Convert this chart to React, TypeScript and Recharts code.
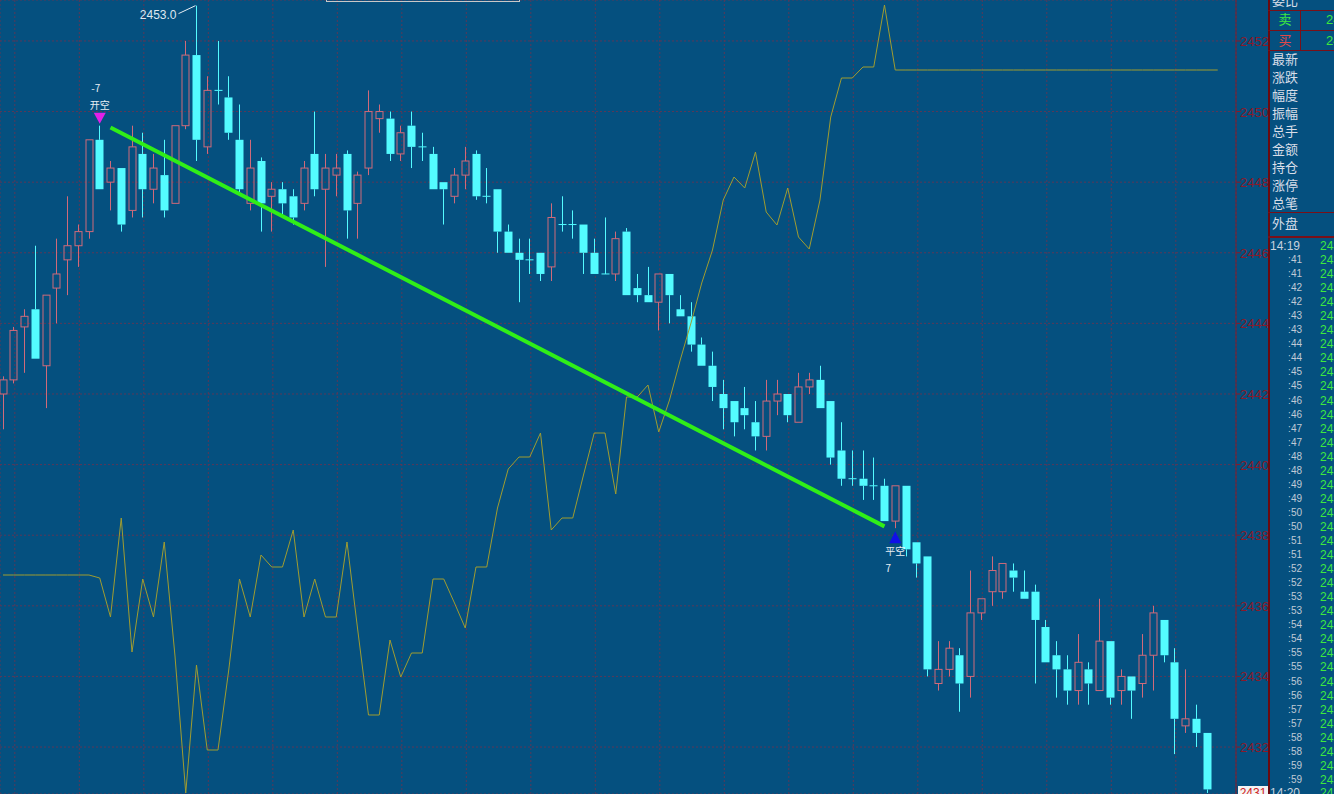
import React from 'react';
import { ComposedChart, Bar, Line, XAxis, YAxis, CartesianGrid, ReferenceDot } from 'recharts';

// one-minute bars, 14:19 session slice
const opens = [
  2442.0, 2442.4, 2443.9, 2444.4, 2442.8, 2445.0, 2445.8, 2446.2, 2446.6, 2449.2,
  2448.0, 2448.4, 2447.2, 2448.8, 2447.8, 2448.2, 2447.4, 2449.6, 2451.6, 2449.0,
  2450.6, 2450.4, 2449.2, 2447.4, 2448.6, 2447.6, 2447.8, 2447.6, 2447.4, 2448.8,
  2447.8, 2448.2, 2448.8, 2447.4, 2448.4, 2449.8, 2449.8, 2448.8, 2449.6, 2449.0,
  2448.8, 2448.0, 2447.6, 2448.2, 2448.8, 2447.6, 2447.8, 2446.6, 2446.0, 2445.8,
  2446.0, 2445.6, 2446.8, 2446.8, 2446.8, 2446.0, 2445.4, 2445.4, 2446.6, 2445.0,
  2444.8, 2444.6, 2445.4, 2444.4, 2444.2, 2443.4, 2442.8, 2442.0, 2441.8, 2441.6,
  2441.2, 2440.8, 2441.8, 2442.0, 2441.2, 2442.2, 2442.4, 2441.8, 2440.4, 2439.6,
  2439.6, 2439.4, 2439.4, 2438.4, 2439.4, 2437.8, 2437.4, 2433.8, 2434.2, 2434.6,
  2434.0, 2435.8, 2436.4, 2436.4, 2437.0, 2436.4, 2436.4, 2435.4, 2434.6, 2434.2,
  2433.6, 2434.2, 2433.6, 2435.0, 2433.6, 2434.0, 2433.8, 2434.6, 2435.6, 2434.4,
  2432.6, 2432.8, 2432.4,
];
const highs = [
  2442.5, 2443.9, 2444.4, 2446.2, 2444.8, 2446.4, 2447.6, 2446.8, 2449.2, 2449.6,
  2448.6, 2448.4, 2449.6, 2449.4, 2448.8, 2449.2, 2449.6, 2452.0, 2453.0, 2451.0,
  2452.0, 2451.0, 2450.2, 2449.2, 2448.7, 2448.0, 2448.0, 2447.8, 2448.6, 2450.0,
  2448.8, 2448.8, 2448.9, 2448.3, 2450.6, 2450.2, 2450.0, 2449.6, 2450.0, 2449.4,
  2449.0, 2448.0, 2448.4, 2449.0, 2448.9, 2448.4, 2447.8, 2446.8, 2446.4, 2446.4,
  2446.0, 2447.4, 2447.6, 2447.2, 2446.8, 2446.4, 2447.0, 2446.6, 2446.7, 2445.4,
  2445.6, 2445.4, 2445.4, 2444.8, 2444.6, 2443.6, 2443.2, 2442.4, 2441.8, 2442.2,
  2441.8, 2442.4, 2442.4, 2442.0, 2442.6, 2442.6, 2442.8, 2441.8, 2441.2, 2440.4,
  2440.4, 2440.2, 2439.6, 2439.4, 2439.4, 2437.8, 2437.4, 2435.0, 2435.0, 2434.8,
  2437.0, 2436.2, 2437.4, 2437.2, 2437.2, 2437.0, 2436.6, 2435.6, 2435.0, 2434.6,
  2435.2, 2434.4, 2436.2, 2435.0, 2434.2, 2434.0, 2435.2, 2436.0, 2435.6, 2434.8,
  2434.2, 2433.2, 2432.4,
];
const lows = [
  2441.0, 2442.3, 2442.6, 2443.0, 2441.6, 2444.0, 2444.8, 2445.6, 2446.4, 2447.8,
  2447.2, 2446.6, 2447.0, 2447.0, 2447.4, 2447.0, 2447.4, 2449.5, 2448.6, 2448.8,
  2450.2, 2449.2, 2447.7, 2447.2, 2446.6, 2446.6, 2447.0, 2446.8, 2447.2, 2447.6,
  2445.6, 2447.6, 2446.4, 2446.4, 2448.2, 2449.4, 2448.6, 2448.6, 2448.4, 2448.6,
  2447.8, 2446.8, 2447.4, 2447.8, 2447.5, 2447.4, 2446.0, 2446.0, 2444.6, 2445.4,
  2445.2, 2445.2, 2446.6, 2446.4, 2445.4, 2445.4, 2445.4, 2445.2, 2444.8, 2444.6,
  2444.6, 2443.8, 2444.0, 2444.2, 2443.2, 2442.8, 2441.8, 2441.0, 2440.8, 2441.0,
  2440.4, 2440.4, 2441.4, 2441.2, 2441.2, 2442.0, 2441.6, 2440.0, 2439.4, 2439.4,
  2439.0, 2439.0, 2438.4, 2438.2, 2437.4, 2436.8, 2434.0, 2433.6, 2434.0, 2433.0,
  2433.4, 2435.6, 2436.0, 2436.2, 2436.4, 2436.2, 2433.8, 2434.4, 2433.4, 2433.2,
  2433.2, 2433.2, 2433.6, 2433.2, 2433.2, 2432.8, 2433.4, 2433.6, 2434.4, 2431.8,
  2432.4, 2432.0, 2430.7,
];
const closes = [
  2442.4, 2443.8, 2444.2, 2443.0, 2444.8, 2445.4, 2446.2, 2446.6, 2449.2, 2447.8,
  2448.4, 2446.8, 2449.0, 2447.8, 2448.4, 2447.2, 2449.6, 2451.6, 2449.2, 2450.6,
  2450.6, 2449.4, 2447.8, 2448.4, 2447.4, 2447.8, 2447.4, 2447.0, 2448.4, 2447.8,
  2448.4, 2448.4, 2447.2, 2448.2, 2450.0, 2450.0, 2448.8, 2449.4, 2449.0, 2449.0,
  2447.8, 2447.8, 2448.2, 2448.6, 2447.6, 2447.6, 2446.6, 2446.0, 2445.8, 2445.8,
  2445.4, 2447.0, 2446.8, 2446.8, 2446.0, 2445.4, 2445.4, 2446.4, 2444.8, 2444.8,
  2444.6, 2445.4, 2444.8, 2444.2, 2443.4, 2442.8, 2442.2, 2441.6, 2441.2, 2441.4,
  2440.8, 2441.8, 2442.0, 2441.4, 2442.2, 2442.4, 2441.6, 2440.2, 2439.6, 2439.6,
  2439.4, 2439.4, 2438.4, 2439.4, 2437.6, 2437.2, 2434.2, 2434.2, 2434.8, 2433.8,
  2435.8, 2436.2, 2437.0, 2437.2, 2436.8, 2436.2, 2435.6, 2434.4, 2434.2, 2433.6,
  2434.4, 2433.8, 2435.0, 2433.4, 2434.0, 2433.6, 2434.6, 2435.8, 2434.6, 2432.8,
  2432.8, 2432.4, 2430.8,
];
// indicator (yellow) - one slot longer than the bars
const flow = [
  0, 0, 0, 0, 0, 0, 0, 0, 0, -0.3,
  -4.2, 5.7, -7.7, -0.4, -4.2, 3.3, -8.1, -21.8, -9.0, -17.5,
  -17.5, -9.5, -0.4, -4.2, 2.0, 0.8, 0.8, 4.5, -4.2, -0.4,
  -4.2, -4.2, 3.3, -5.5, -14.0, -14.0, -6.5, -10.2, -7.8, -7.8,
  -0.4, -0.4, -2.8, -5.3, 0.8, 0.8, 6.7, 10.6, 11.8, 11.8,
  14.2, 4.5, 5.7, 5.7, 10.0, 14.2, 14.2, 8.1, 17.8, 17.8,
  19.0, 14.3, 17.5, 21.5, 25.2, 29.2, 32.5, 37.5, 39.8, 38.7,
  42.3, 36.3, 35.0, 38.7, 33.8, 32.6, 37.5, 45.8, 49.7, 49.7,
  50.8, 50.8, 57.0, 50.5, 50.5, 50.5, 50.5, 50.5, 50.5, 50.5,
  50.5, 50.5, 50.5, 50.5, 50.5, 50.5, 50.5, 50.5, 50.5, 50.5,
  50.5, 50.5, 50.5, 50.5, 50.5, 50.5, 50.5, 50.5, 50.5, 50.5,
  50.5, 50.5, 50.5, 50.5,
];

const tradeLine = [
  { i: 10, price: 2449.55 },
  { i: 82, price: 2438.25 },
];
const signals = [
  { i: 9, kind: 'open', label: '开空', qty: '-7' },
  { i: 83, kind: 'close', label: '平空', qty: '7' },
];
const priceTicks = [2432, 2434, 2436, 2438, 2440, 2442, 2444, 2446, 2448, 2450, 2452];
const gridSlots = [1.1, 7.1, 13.1, 19.1, 25.1, 31.1, 37.1, 43.1, 49.1, 55.1, 61.1, 67.1, 73.1, 79.1, 85.1, 91.1, 97.1, 103.1, 109.1];
const quoteLabels = ['最新', '涨跌', '幅度', '振幅', '总手', '金额', '持仓', '涨停', '总笔'];
const tapeMinutes = [41, 42, 43, 44, 45, 46, 47, 48, 49, 50, 51, 52, 53, 54, 55, 56, 57, 58, 59];

const BG = '#05507f';
const UP = '#d06a7a';
const DOWN = '#54fbff';
const GRID = '#5a3858';
const AXIS_RED = '#8a1a2a';

const data = flow.map((f, i) => ({
  i,
  open: opens[i],
  high: highs[i],
  low: lows[i],
  close: closes[i],
  flow: f,
  trade: tradeLine.find((t) => t.i === i)?.price ?? null,
}));

const Candle = (props: any) => {
  const { x, y, width, height, payload } = props;
  if (!payload || payload.open == null) return null;
  const { open, close, high, low } = payload;
  const top = height >= 0 ? y : y + height;
  const h = Math.abs(height);
  const k = high > low ? h / (high - low) : 0;
  const yO = top + (high - open) * k;
  const yC = top + (high - close) * k;
  const cx = Math.round(x + width / 2) + 0.5;
  const bTop = Math.min(yO, yC);
  const bBot = Math.max(yO, yC);
  const up = close > open;
  const col = up ? UP : DOWN;
  return (
    <g>
      <line x1={cx} x2={cx} y1={top} y2={bTop} stroke={col} strokeWidth={1} />
      <line x1={cx} x2={cx} y1={bBot} y2={top + h} stroke={col} strokeWidth={1} />
      {up ? (
        <rect x={cx - 3.5} y={bTop} width={7} height={bBot - bTop} fill="none" stroke={col} strokeWidth={1} />
      ) : bBot - bTop < 1.5 ? (
        <line x1={cx - 4} x2={cx + 4} y1={bTop} y2={bTop} stroke={col} strokeWidth={1} />
      ) : (
        <rect x={cx - 4} y={bTop} width={8} height={bBot - bTop} fill={col} />
      )}
    </g>
  );
};

const PriceTick = (props: any) => {
  const { x, y, payload } = props;
  return (
    <g>
      <line x1={x} x2={x + 5} y1={y} y2={y} stroke={AXIS_RED} />
      <text x={x + 33} y={y + 5} textAnchor="end" fill={AXIS_RED} fontSize={13} fontFamily="Liberation Sans, Arial">
        {payload.value}
      </text>
    </g>
  );
};

const SignalMark = (sig: any) => (props: any) => {
  const { cx, cy } = props;
  const txt = { fill: '#e8eef4', fontSize: 10, fontFamily: 'Noto Sans CJK SC', textAnchor: 'middle' as const };
  if (sig.kind === 'open') {
    return (
      <g>
        <text x={cx - 4} y={cy - 34} {...txt}>{sig.qty}</text>
        <text x={cx} y={cy - 17} {...txt}>{sig.label}</text>
        <polygon points={`${cx - 6},${cy - 13} ${cx + 6},${cy - 13} ${cx},${cy - 2}`} fill="#e020e8" />
      </g>
    );
  }
  return (
    <g>
      <polygon points={`${cx - 6},${cy + 15} ${cx + 6},${cy + 15} ${cx},${cy + 3}`} fill="#1010e8" />
      <text x={cx} y={cy + 27} {...txt}>{sig.label}</text>
      <text x={cx - 7} y={cy + 44} {...txt}>{sig.qty}</text>
    </g>
  );
};

const PeakMark = (props: any) => {
  const { cx, cy } = props;
  return (
    <g>
      <line x1={cx - 18} y1={cy + 8} x2={cx - 1} y2={cy} stroke="#e8eef4" strokeWidth={1} />
      <text x={cx - 20} y={cy + 13} textAnchor="end" fill="#dfe8f0" fontSize={12} fontFamily="Liberation Sans, Arial">
        {Math.max(...highs).toFixed(1)}
      </text>
    </g>
  );
};

const SidePanel = () => {
  const line = '#7a1018';
  const light = '#d8dee8';
  const green = '#3ee83e';
  const cjk = 'Noto Sans CJK SC';
  return (
    <svg width={66} height={794} style={{ position: 'absolute', left: 1268, top: 0 }}>
      <line x1={1} x2={1} y1={0} y2={794} stroke="#6a0a10" strokeWidth={2} />
      <text x={4} y={5} fill={light} fontSize={13} fontFamily={cjk}>委比</text>
      <line x1={0} x2={66} y1={10.5} y2={10.5} stroke={line} />
      <line x1={0} x2={66} y1={30.5} y2={30.5} stroke={line} />
      <line x1={0} x2={66} y1={50.5} y2={50.5} stroke={line} />
      <line x1={32.5} x2={32.5} y1={10} y2={50} stroke={line} />
      <text x={17} y={24} textAnchor="middle" fill={green} fontSize={13} fontFamily={cjk}>卖</text>
      <text x={17} y={45} textAnchor="middle" fill="#e04848" fontSize={13} fontFamily={cjk}>买</text>
      <text x={58} y={24} fill={green} fontSize={13} fontFamily="Liberation Sans, Arial">2452.0</text>
      <text x={58} y={45} fill={green} fontSize={13} fontFamily="Liberation Sans, Arial">2451.8</text>
      {quoteLabels.map((l, k) => (
        <text key={l} x={4} y={64 + k * 18} fill={light} fontSize={13} fontFamily={cjk}>{l}</text>
      ))}
      <line x1={0} x2={66} y1={212.5} y2={212.5} stroke={line} />
      <text x={4} y={228} fill={light} fontSize={13} fontFamily={cjk}>外盘</text>
      <line x1={0} x2={66} y1={237} y2={237} stroke={line} strokeWidth={2} />
      <text x={2} y={250} fill="#c8d2de" fontSize={12} fontFamily="Liberation Sans, Arial">14:19</text>
      <text x={52} y={250} fill={green} fontSize={12} fontFamily="Liberation Sans, Arial">2438</text>
      {tapeMinutes.flatMap((m) => [m, m]).map((m, k) => (
        <g key={k}>
          <text x={34} y={263 + k * 14.05} textAnchor="end" fill="#c0cad6" fontSize={10} fontFamily="Liberation Sans, Arial">
            :{m}
          </text>
          <text x={52} y={264 + k * 14.05} fill={green} fontSize={12} fontFamily="Liberation Sans, Arial">2438</text>
        </g>
      ))}
      <text x={2} y={797} fill="#c8d2de" fontSize={12} fontFamily="Liberation Sans, Arial">14:20</text>
      <text x={52} y={797} fill={green} fontSize={12} fontFamily="Liberation Sans, Arial">2431</text>
    </svg>
  );
};

export default function App() {
  return (
    <div style={{ position: 'relative', width: 1334, height: 794, background: BG, overflow: 'hidden' }}>
      <style>{'body{margin:0}'}</style>
      <ComposedChart width={1268} height={794} data={data} margin={{ top: 0, right: 0, bottom: 0, left: 0 }}>
        <CartesianGrid stroke={GRID} strokeDasharray="2 2" />
        <XAxis
          dataKey="i"
          type="number"
          domain={[-0.279, 114.7]}
          allowDataOverflow
          ticks={gridSlots}
          hide
        />
        <YAxis
          orientation="right"
          width={32}
          domain={[2430.67, 2453.16]}
          allowDataOverflow
          ticks={priceTicks}
          interval={0}
          tickSize={0}
          tickMargin={0}
          axisLine={{ stroke: '#7a1f30' }}
          tickLine={false}
          tick={<PriceTick />}
        />
        <YAxis yAxisId="flow" hide domain={[-21.9, 57.5]} allowDataOverflow />
        <Line
          yAxisId="flow"
          dataKey="flow"
          type="linear"
          stroke="#a09c30"
          strokeWidth={1}
          dot={false}
          activeDot={false}
          isAnimationActive={false}
        />
        <Bar
          dataKey={(d: any) => (d.open == null ? null : [d.low, d.high])}
          barSize={8}
          shape={<Candle />}
          activeBar={false}
          isAnimationActive={false}
        />
        <Line
          dataKey="trade"
          type="linear"
          stroke="#30ee18"
          strokeWidth={4}
          connectNulls
          dot={false}
          activeDot={false}
          isAnimationActive={false}
        />
        {signals.map((s) => (
          <ReferenceDot
            key={s.i}
            x={s.i}
            y={s.kind === 'open' ? highs[s.i] : lows[s.i]}
            ifOverflow="visible"
            shape={SignalMark(s)}
          />
        ))}
        <ReferenceDot x={highs.indexOf(Math.max(...highs))} y={Math.max(...highs)} ifOverflow="visible" shape={PeakMark} />
      </ComposedChart>
      <div
        style={{
          position: 'absolute',
          left: 326,
          top: -20,
          width: 192,
          height: 20,
          border: '1px solid #c8c8c8',
        }}
      />
      <div
        style={{
          position: 'absolute',
          left: 1238,
          top: 786,
          width: 30,
          height: 14,
          background: '#f4f4f4',
          color: '#d02020',
          fontSize: 12,
          fontFamily: 'Liberation Sans, Arial',
          lineHeight: '14px',
          textAlign: 'center',
        }}
      >
        2431
      </div>
      <SidePanel />
    </div>
  );
}
